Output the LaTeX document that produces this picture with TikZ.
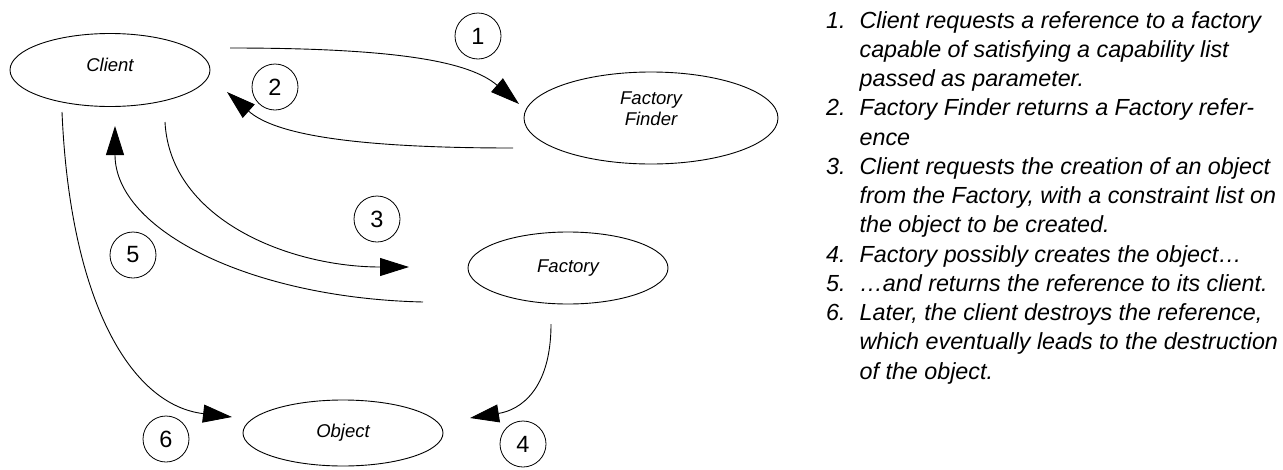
\documentclass[tikz,border=0pt]{standalone}
\usepackage{fontspec}
\setmainfont{Liberation Sans}
\usetikzlibrary{shapes.geometric,arrows.meta}
\tikzset{
  actor/.style={ellipse, draw, line width=0.9pt, inner sep=0pt,
    font=\fontsize{18.5}{21}\selectfont\itshape, align=center},
  numcirc/.style={circle, draw, line width=0.8pt, minimum size=46pt,
    inner sep=0pt, font=\fontsize{23.5}{24}\selectfont},
  flow/.style={line width=0.9pt, -{Triangle[length=29pt,width=18pt]}},
}
\begin{document}
\begin{tikzpicture}[x=1pt,y=-1pt]
    \useasboundingbox (0,0) rectangle (1283,469);
    \node[actor, minimum width=200pt, minimum height=73pt, text depth=10pt]
      (client) at (110,70) {Client};
    \node[actor, minimum width=254pt, minimum height=92pt, text depth=18pt]
      (finder) at (651,118) {Factory\\Finder};
    \node[actor, minimum width=200pt, minimum height=72pt]
      (factory) at (568,268) {Factory};
    \node[actor, minimum width=200pt, minimum height=66pt]
      (object) at (343,433) {Object};
    \foreach \n/\x/\y in
      {1/478/36,2/275/87,3/377/219,4/523/444,5/133/255,6/166/439} {
      \node[numcirc] (n\n) at (\x,\y) {\n};
    }
    \coordinate (req1) at (230,48);
    \coordinate (req1e) at (519,104);
    \coordinate (ret2) at (513,148);
    \coordinate (ret2e) at (227,92);
    \coordinate (req3) at (165,122);
    \coordinate (req3e) at (409,267);
    \coordinate (ret5) at (423,302);
    \coordinate (ret5e) at (115,126);
    \coordinate (new4) at (551,324);
    \coordinate (new4e) at (470,418);
    \coordinate (del6) at (62,112);
    \coordinate (del6e) at (232,417);
    \draw[flow] (req1) .. controls (400,48) and (470,62) .. (req1e);
    \draw[flow] (ret2) .. controls (330,148) and (270,130) .. (ret2e);
    \draw[flow] (req3) .. controls (170,220) and (290,267) .. (req3e);
    \draw[flow] (ret5) .. controls (250,298) and (115,230) .. (ret5e);
    \draw[flow] (new4) .. controls (551,390) and (520,410) .. (new4e);
    \draw[flow] (del6) .. controls (70,300) and (130,405) .. (del6e);
    \node[anchor=base west, inner sep=0pt,
      font=\fontsize{23.3}{29.25}\selectfont\itshape] (steps) at (826,28)
      {\begin{tabular}[t]{@{}l@{\hspace{14pt}}l@{}}
       1. & Client requests a reference to a factory\\
          & capable of satisfying a capability list\\
          & passed as parameter.\\
       2. & Factory Finder returns a Factory refer-\\
          & ence\\
       3. & Client requests the creation of an object\\
          & from the Factory, with a constraint list on\\
          & the object to be created.\\
       4. & Factory possibly creates the object…\\
       5. & …and returns the reference to its client.\\
       6. & Later, the client destroys the reference,\\
          & which eventually leads to the destruction\\
          & of the object.
       \end{tabular}};
  \end{tikzpicture}
\end{document}
